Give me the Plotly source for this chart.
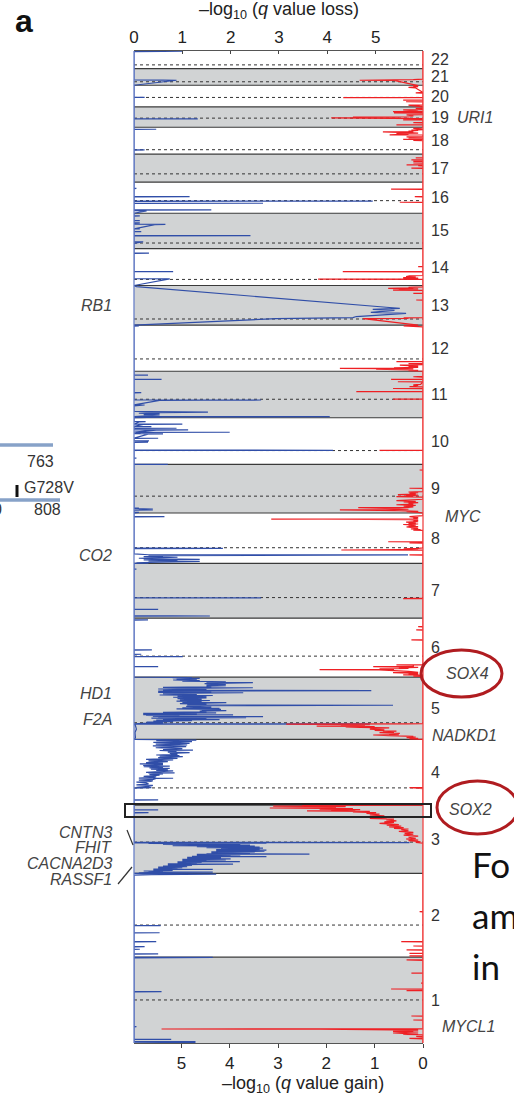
import plotly.graph_objects as go

# ---------------- data ----------------
chrom_names = [str(i) for i in range(1, 23)]
chrom_len = [249.25, 243.2, 198.0, 191.2, 180.9, 171.1, 159.1, 146.4, 141.2, 135.5, 135.0,
             133.9, 115.2, 107.3, 102.5, 90.4, 81.2, 78.1, 59.1, 63.0, 48.1, 51.3]
centromere = [125.0, 93.3, 91.0, 50.4, 48.4, 61.0, 59.9, 45.6, 49.0, 40.2, 53.7,
              35.8, 17.9, 17.6, 16.0, 36.6, 24.0, 13.0, 26.5, 27.5, 10.0, 11.0]

# loss profile, (position in Mb, -log10 q loss)
loss_1 = [(0, 0), (1.2, 1.26), (3.8, 1.26), (4.2, 0), (10.3, 0), (10.7, 0.77), (11.1, 0), (47, 0), (47.4, 0.05),
          (47.8, 0), (148.6, 0), (149, 0.57), (149.4, 0), (247.3, 0), (247.8, 0.36), (248.4, 1.63), (249, 0)]
loss_2 = [(0, 0), (9, 0), (9.3, 0.5), (9.7, 0), (22.7, 0), (23, 0.12), (23.3, 0), (30.2, 0), (30.5, 0.22), (30.8, 0),
          (44.7, 0), (45, 0.46), (45.3, 0), (70.7, 0), (71, 0.53), (71.3, 0), (91.2, 0), (91.5, 0.55), (91.8, 0),
          (238, 0), (240, 0.36), (241, 1.7), (241.8, 0.53), (243, 0)]
loss_3 = [(0, 0), (1, 0.4), (2, 0.1), (3, 0.5), (4, 1.63), (4.6, 0.3), (6, 0.6), (7, 0.2), (8.5, 0.8), (10, 0.4),
          (11.5, 0.8), (12, 1.63), (12.5, 0.4), (14, 0.9), (15.5, 0.5), (17, 1.0), (18.5, 0.5), (20, 1.1), (21.5, 0.6),
          (23, 1.2), (24.5, 0.7), (26, 1.36), (27.3, 2.05), (27.8, 0.7), (29, 1.3), (30.5, 0.9), (32, 1.4), (33.5, 0.9),
          (34.5, 2.19), (35, 1.0), (36.5, 1.5), (38, 1.0), (39.5, 1.9), (41, 1.0), (42.5, 2.0), (44, 1.1), (45.5, 1.8),
          (47, 1.1), (48.5, 1.77), (49, 2.74), (49.5, 1.2), (51, 2.0), (52.5, 1.3), (54, 2.2), (55.5, 1.3), (56.3, 3.63),
          (57, 1.5), (58.5, 2.4), (60, 1.6), (61.5, 2.5), (63, 1.6), (64.5, 2.7), (66, 1.7), (67.5, 2.74), (69, 1.7),
          (70.5, 2.6), (72, 1.8), (73.5, 2.67), (75, 1.5), (76.5, 2.6), (78, 1.3), (79.5, 2.5), (81, 0.8), (82.5, 2.4),
          (84, 0.6), (85.5, 2.2), (87, 0.3), (87.8, 1.43), (88.3, 2.74), (89, 0.0), (89.5, 5.7), (90.3, 0),
          (176, 0), (176.5, 0.3), (177, 0), (184.2, 0), (184.6, 0.5), (185, 0), (198, 0)]
loss_4 = [(0, 0), (15, 0), (15.4, 0.5), (15.8, 0), (50, 0), (51, 0.36), (52, 0.05), (55, 0.3), (57.7, 0.39),
          (59, 0.05), (62, 0.3), (65.3, 0.25), (67, 0.05), (69, 0.35), (71.1, 0.39), (73, 0.1), (75, 0.4), (78, 0.46),
          (78.5, 0.81), (79, 0.1), (81, 0.4), (82.7, 0.46), (84, 0.2), (86, 0.5), (87.6, 0.53), (89, 0.32), (91, 0.6),
          (93, 0.3), (94.3, 0.84), (95.5, 0.25), (97.5, 0.7), (100, 0.81), (101.5, 0.46), (103.5, 0.7), (105, 0.35),
          (107, 0.74), (108.5, 0.32), (110.5, 0.6), (112, 0.2), (113.9, 0.74), (115.5, 0.19), (118, 0.6), (120, 0.12),
          (121.7, 0.6), (124, 0.25), (126.5, 0.7), (129, 0.3), (131.4, 0.81), (133.5, 0.25), (136, 0.9), (138.5, 0.5),
          (141, 1.01), (142.5, 0.53), (144.5, 0.94), (146, 0.46), (148, 0.9), (150.5, 0.74), (152.7, 1.15),
          (154.5, 0.7), (157, 0.88), (159, 0.53), (160.4, 1.22), (162, 0.6), (164.5, 1.0), (167, 0.45), (170, 1.08),
          (172.5, 0.39), (175, 1.1), (177.5, 0.45), (180, 1.15), (182.5, 0.4), (185, 1.2), (187.6, 0.46), (189, 1.29),
          (190.5, 0.5), (191.2, 0)]
loss_5 = [(0, 0), (5, 0.03), (20, 0.02), (30, 0.05), (40, 0.03), (44.2, 0), (44.7, 3.15), (45, 4.88), (45.4, 0),
          (46.5, 0.2), (48.5, 0.6), (50, 0.26), (51.4, 0.81), (53, 0.4), (54.5, 1.2), (56.3, 0.46), (57.5, 1.77),
          (59, 0.6), (60.5, 1.5), (62, 0.36), (63, 2.32), (64.2, 0.5), (65.2, 1.1), (66, 2.67), (66.6, 0.39),
          (68, 0.94), (69.5, 0.25), (70.9, 1.57), (71.5, 2.05), (72.2, 0.19), (74, 1.3), (75.8, 0.19), (77, 1.7),
          (78.5, 0.6), (80, 1.5), (82, 1.36), (83.4, 1.91), (85, 1.4), (87, 1.8), (88.5, 0.88), (90.3, 1.77),
          (92, 1.0), (94, 1.6), (96, 1.08), (98, 1.5), (99.2, 5.36), (100, 1.1), (102, 1.5), (104, 0.95),
          (105.5, 1.36), (106.6, 1.91), (107.5, 1.0), (109.5, 1.4), (111.5, 0.88), (113, 1.57), (114.4, 0.95),
          (116.5, 1.4), (118.5, 0.9), (120.5, 1.5), (122.5, 0.81), (124, 1.5), (126, 0.9), (127.5, 1.63), (129, 0.53),
          (131, 1.3), (133, 0.6), (134.5, 2.05), (135.6, 2.26), (136.5, 0.5), (138.5, 1.6), (140.5, 0.5), (142, 4.91),
          (143, 0.6), (144.5, 1.5), (146.5, 0.5), (148.5, 1.7), (150, 2.46), (151, 0.6), (153, 1.6), (155, 1.5),
          (156.5, 1.9), (158, 1.5), (160, 1.9), (162, 1.46), (163.5, 1.98), (164.7, 2.46), (165.5, 1.5), (167.5, 1.9),
          (169.5, 1.0), (171, 1.36), (172.5, 0.81), (174.5, 1.3), (176, 0.88), (177.4, 1.36), (178.5, 0.8),
          (179.7, 1.2), (180.6, 0.3), (180.9, 0)]
loss_6 = [(0, 0), (30.1, 0), (30.5, 0.5), (30.9, 0), (59.2, 0), (59.6, 1.01), (60, 0), (66.1, 0), (66.5, 0.15),
          (66.9, 0), (78.6, 0), (79, 0.37), (79.4, 0), (165.5, 0), (166, 0.29), (166.5, 0.15), (167, 0), (171.1, 0)]
loss_7 = [(0, 0), (6, 0), (6.4, 1.57), (6.8, 0.9), (7.3, 0), (25.4, 0), (25.8, 0.5), (26.2, 0), (58.8, 0),
          (59.3, 2.63), (59.8, 0), (142.4, 0), (142.7, 0.05), (143, 0), (159.1, 0)]
loss_8 = [(0, 0), (1, 0.3), (2, 0.05), (4, 0.5), (6, 1.36), (7, 0.3), (9, 0.9), (10.5, 0.2), (12, 1.36), (13.5, 0.5),
          (15, 0.1), (16.5, 0.6), (18, 0.9), (19.8, 0.2), (21, 0.6), (22.5, 0.3), (24.2, 3.63), (24.7, 5.67),
          (25.2, 0.3), (26, 0.1), (28, 0), (43, 0), (43.5, 0.39), (44, 1.84), (44.5, 0.4), (45, 0), (135.5, 0),
          (135.9, 0.63), (136.3, 0), (146.4, 0)]
loss_9 = [(0, 0), (2, 0.1), (3, 0), (8, 0), (9, 0.39), (10, 0.1), (11.5, 0.39), (12.5, 0), (14, 0.1), (15, 0),
          (141.2, 0)]
loss_10 = [(0, 0), (0.3, 0.7), (0.9, 0), (17.8, 0), (18, 0.05), (18.3, 0), (40.5, 0), (41, 4.12), (41.5, 0),
           (64.2, 0), (64.5, 0.29), (64.8, 0), (68, 0.15), (68.3, 0.31), (68.7, 0), (75.7, 0), (76, 0.5), (76.3, 0),
           (88, 0.29), (88.5, 0.6), (89, 0), (92.8, 0.15), (93.4, 1.98), (93.7, 1.53), (94, 0), (99.5, 0.46),
           (100, 1.12), (100.5, 0), (104.7, 0), (105, 0.88), (105.4, 0), (109.7, 0), (110, 0.36), (110.3, 0),
           (116.3, 0.19), (116.8, 1.0), (117.2, 0), (123.7, 0.12), (124, 0.24), (124.3, 0), (135.5, 0)]
loss_11 = [(0, 0), (1.5, 0.57), (2.5, 0.3), (3, 4.05), (3.5, 0), (8, 0.53), (9, 0.2), (11, 0.53), (13, 0.1),
           (15, 0.53), (16.5, 1.53), (17.5, 0.3), (18.5, 0), (34.7, 0), (35, 0.22), (35.3, 0), (36.7, 0), (37, 0.22),
           (37.3, 0), (50.5, 0.53), (51, 1.43), (51.5, 2.63), (52, 0), (72.5, 0), (72.8, 0.15), (73.1, 0),
           (111.3, 0), (111.6, 0.57), (111.9, 0), (123.7, 0), (124, 0.29), (124.3, 0), (135, 0)]
loss_12 = [(0, 0), (131, 0), (131.5, 0.1), (133.9, 0)]
loss_13 = [(19, 2.94), (22, 4.53), (25, 4.6), (28, 4.94), (31, 5.4), (34, 5.63), (37, 4.9), (40, 5.2), (43, 5.39),
           (46, 4.94), (48.9, 5.5), (52, 5.22), (112, 0.05), (115.2, 0)]
loss_14 = [(19, 0.74), (19.5, 0), (40, 0), (40.4, 0.81), (40.8, 0), (93.5, 0), (93.8, 0.31), (94.1, 0), (107.3, 0)]
loss_15 = [(15, 0), (19.7, 0.19), (20.3, 0), (37, 0), (37.3, 1.53), (37.5, 2.41), (37.8, 0), (48.7, 0), (49, 0.15),
           (49.3, 0), (56.7, 0), (57, 0.12), (57.3, 0), (69.5, 0.43), (70, 0.65), (70.5, 0), (74, 0), (74.3, 0.12),
           (74.6, 0), (80.7, 0), (81, 0.12), (81.3, 0), (94.4, 0), (94.7, 0.12), (95, 0), (102.5, 0)]
loss_16 = [(0, 0), (7, 0.26), (7.4, 0), (9.3, 0), (9.6, 1.6), (9.9, 0), (28.7, 0), (29, 2.67), (29.3, 0),
           (34.5, 0), (35, 2.67), (35.3, 4.94), (35.7, 0), (47.7, 0), (48, 1.15), (48.3, 0), (71.7, 0), (72, 0.05),
           (72.3, 0), (90.4, 0)]
loss_17 = [(0, 0), (81.2, 0)]
loss_18 = [(0, 0), (12, 0), (12.2, 0.22), (12.5, 0), (72, 0), (72.4, 0.46), (72.8, 0), (78.1, 0)]
loss_19 = [(0, 0), (24, 0), (24.4, 1.32), (24.6, 0.36), (25, 0), (59.1, 0)]
loss_20 = [(0, 0), (27.7, 0), (28, 0.22), (28.3, 0), (63, 0)]
loss_21 = [(14.5, 0.88), (15, 0.6), (15.5, 0), (48.1, 0)]
loss_22 = [(15, 0), (49.5, 0), (50, 0.6), (50.6, 1.0), (51.2, 0)]

# gain profile, (position in Mb, -log10 q gain)
gain_1 = [(0, 0), (12, 0), (13.4, 0.28), (14, 0), (18, 0), (19, 0.14), (20, 0), (24, 0), (25, 0.41), (26, 0.1),
          (29, 0.62), (30, 0.2), (31, 0.55), (32, 0.1), (33.5, 0.62), (34.5, 0.2), (36, 0.5), (37.5, 0.1),
          (40.2, 2.14), (40.6, 5.41), (41, 0), (66.5, 0), (66.8, 0.2), (67.1, 0), (78, 0), (78.4, 0.24), (78.8, 0),
          (151.7, 0), (152, 0.34), (152.3, 0), (156.5, 0), (156.8, 0.66), (157.2, 0), (173.7, 0), (174, 0.04),
          (174.3, 0), (202.7, 0), (203, 0.24), (203.3, 0), (240, 0), (241.6, 0.34), (242.5, 0), (249.2, 0)]
gain_2 = [(0, 0), (3.2, 0), (3.5, 0.28), (3.8, 0), (11, 0), (11.3, 0.28), (11.6, 0), (20.7, 0), (21, 0.34),
          (21.3, 0), (32.2, 0), (32.5, 0.2), (32.8, 0), (44.7, 0), (45, 0.45), (45.3, 0), (131.7, 0), (132, 0.07),
          (132.3, 0), (243.2, 0)]
gain_3 = [(0, 0), (88, 0), (90, 0.15), (92, 0.05), (95, 0.3), (97, 0.1), (100, 0.35), (102, 0.15), (105, 0.3),
          (108.6, 0.1), (111, 0.4), (114, 0.2), (116.5, 0.38), (119, 0.2), (122, 0.5), (124, 0.3), (127, 0.45),
          (129, 0.3), (131, 0.6), (133, 0.4), (135.5, 0.7), (137.7, 0.45), (140, 0.75), (142, 0.5), (145.6, 0.9),
          (148, 0.6), (150, 0.8), (152.5, 0.55), (155.3, 0.76), (157.5, 0.6), (160, 1.1), (162, 0.75), (164.5, 1.0),
          (167, 0.8), (169.7, 1.1), (172, 0.9), (174.6, 1.17), (176.5, 0.97), (179, 1.45), (180.5, 1.1),
          (181.4, 2.4), (182, 1.4), (184, 1.9), (185.5, 1.3), (187, 2.14), (188.5, 1.45), (190, 3.17), (191, 1.8),
          (192.5, 2.2), (194, 1.6), (195.5, 3.1), (196.5, 2.0), (197.5, 2.5), (198, 0)]
gain_4 = [(0, 0), (48, 0), (49, 0.28), (50, 0.1), (51, 0.28), (52, 0), (191.2, 0)]
gain_5 = [(0, 0), (1.5, 0.28), (3, 0.1), (5, 0.34), (7, 0.15), (7.8, 0.34), (9, 0.2), (11, 0.7), (12.8, 1.03),
          (14, 0.5), (16, 0.7), (17.7, 0.48), (19.5, 0.9), (21, 0.6), (22.4, 0.83), (24, 0.55), (26, 1.0), (28, 0.8),
          (30, 1.1), (32.2, 1.03), (33.5, 0.7), (35, 1.3), (36.2, 1.6), (37.5, 1.0), (38.9, 2.2), (40, 1.2),
          (41.5, 1.7), (43, 1.1), (44.3, 2.2), (44.7, 2.83), (45.2, 0.3), (46, 0), (180.9, 0)]
gain_6 = [(0, 0), (2, 0), (3, 0.2), (4, 0), (6, 0), (6.4, 0.41), (7, 0.1), (9, 0.3), (11, 0.1), (13, 0.62),
          (14, 0.1), (17, 0.3), (19, 0.5), (21, 0.9), (21.6, 2.14), (22.2, 0.6), (24, 0.9), (25, 0.3), (27, 0.5),
          (28.5, 0.1), (30.5, 1.03), (31, 0.2), (35.1, 0.2), (35.4, 0.55), (35.8, 0), (107.7, 0), (108, 0.24),
          (108.3, 0), (136.7, 0), (137, 0.14), (137.3, 0), (146, 0), (146.4, 0.1), (146.8, 0), (171.1, 0)]
gain_7 = [(0, 0), (56.5, 0), (57, 0.41), (57.5, 0.3), (58, 0.41), (58.5, 0), (159.1, 0)]
gain_8 = [(0, 0), (24.4, 0), (24.7, 0.28), (25, 0), (38.5, 0), (39, 1.69), (39.5, 0.3), (40.5, 0.48), (41.5, 0.1),
          (42.5, 0.4), (44, 0.1), (45, 0), (59.2, 0), (59.5, 0.28), (59.8, 0), (62.7, 0), (63, 0.72), (63.3, 0),
          (96, 0), (97, 0.2), (98.5, 0.05), (100, 0.25), (102, 0.1), (104, 0.3), (106, 0.34), (107, 0.1), (109, 0.3),
          (111, 0.15), (113, 0.41), (114.5, 0.1), (116, 0.3), (118, 0.15), (120, 0.35), (121.5, 0.1), (123, 0.2),
          (125, 0.1), (127, 0.3), (128.4, 2.07), (128.7, 3.14), (129, 0.1), (131, 0.2), (133, 0.1), (135.9, 0.28),
          (137, 0.1), (139, 0), (146.4, 0)]
gain_9 = [(0, 0), (2, 0.1), (4, 0.34), (5, 0.1), (7, 0.5), (8.5, 0.97), (9, 1.72), (9.5, 0.6), (11, 0.3),
          (13, 0.6), (15.7, 1.34), (16.3, 0.3), (18, 0.2), (20, 0.4), (22, 0.15), (24, 0.55), (26, 0.2), (28, 0.3),
          (30, 0.1), (32, 0.4), (34, 0.15), (36, 0.55), (38, 0.1), (40, 0), (46, 0), (47.6, 0.55), (48.5, 0.2),
          (50, 0.35), (52, 0.1), (53.5, 0.52), (55, 0.15), (57, 0.28), (59, 0.1), (61, 0.3), (62, 0), (71.7, 0),
          (72, 0.28), (72.3, 0), (124.7, 0), (125, 0.07), (125.3, 0), (141.2, 0)]
gain_10 = [(0, 0), (40.5, 0), (41, 0.9), (41.5, 0), (135.5, 0)]
gain_11 = [(0, 0), (53.7, 0), (54, 0.62), (54.3, 0), (75.5, 0), (75.8, 1.38), (76.1, 0), (84.7, 0), (85, 0.62),
           (85.3, 0), (89.9, 0), (90.2, 0.28), (91, 0.1), (92.5, 0.2), (94, 0.1), (95.5, 0.2), (97, 0.05),
           (104.3, 0), (104.6, 0.52), (104.9, 0), (111.3, 0), (111.6, 0.66), (111.9, 0), (118, 0), (119, 0.2),
           (120, 0), (135, 0)]
gain_12 = [(0, 0), (2, 0.3), (3, 0.1), (4, 0.97), (5, 0.4), (6, 0.97), (7, 0.2), (8.4, 1.72), (9, 0.4), (10, 0.6),
           (11, 0.1), (13, 0.3), (15, 0.1), (18, 0.48), (19, 0), (21.7, 0), (22, 0.3), (22.3, 0), (27.7, 0),
           (28, 0.55), (28.3, 0), (129, 0), (130, 0.4), (131, 0.1), (132, 0.4), (133.9, 0.1)]
gain_13 = [(19, 1.24), (19.5, 0.3), (21, 0.4), (22, 0), (72.7, 0), (73, 0.14), (73.3, 0), (92, 0), (92.5, 0.2),
           (93, 0), (101, 0), (102, 0.62), (103, 0.2), (104.5, 0.5), (105.5, 0.1), (107, 0.72), (108, 0.2),
           (110, 0.3), (111, 0), (115.2, 0)]
gain_14 = [(17.8, 0), (18.3, 2.17), (18.8, 0.3), (20, 0.41), (21.5, 0.1), (23, 0.41), (24.5, 0.15), (26, 0.35),
           (28, 0.28), (29, 0), (39.7, 0), (40, 1.66), (40.3, 0), (54.7, 0), (55, 0.1), (55.3, 0), (107.3, 0)]
gain_15 = [(15, 0), (102.5, 0)]
gain_16 = [(0, 0), (31.7, 0), (32, 0.48), (32.3, 0), (47.7, 0), (48, 0.17), (48.3, 0), (69.6, 0), (69.9, 0.66),
           (70.2, 0), (90.4, 0)]
gain_17 = [(0, 0), (40, 0), (40.5, 0.24), (41, 0), (47, 0), (47.5, 0.1), (48, 0), (49.7, 0), (50, 0.34), (50.3, 0),
           (55, 0), (55.5, 0.2), (56, 0), (60, 0), (60.3, 0.2), (60.6, 0), (64.2, 0), (64.5, 0.24), (64.8, 0),
           (70, 0), (70.5, 0.15), (71, 0), (81.2, 0)]
gain_18 = [(0, 0), (39, 0), (40, 0.2), (41, 0), (42.7, 0), (43, 0.41), (43.3, 0), (47, 0), (47.5, 0.3), (48, 0.1),
           (50, 0.34), (51, 0), (55.7, 0), (56, 0.69), (56.3, 0.1), (58, 0.3), (60, 0.55), (61, 0.1), (62.5, 0.3),
           (65, 0.83), (65.5, 0.2), (67, 0.3), (69, 0.1), (70, 0.24), (71, 0), (75, 0.2), (76, 0), (78.1, 0)]
gain_19 = [(0, 0), (6.7, 0), (7, 0.55), (7.3, 0), (13, 0), (13.5, 0.2), (14, 0), (21.2, 0), (21.5, 0.41),
           (21.8, 0), (25, 0), (27, 1.9), (27.5, 0.5), (29.3, 1.45), (29.8, 0.3), (33, 0.2), (36, 0.34), (37, 0),
           (41.3, 0), (41.6, 0.6), (42, 0), (45.3, 0), (45.6, 0.62), (46, 0.1), (48, 0.2), (50.5, 0.41), (51, 0),
           (54, 0), (55, 0.15), (56, 0), (59.1, 0)]
gain_20 = [(0, 0), (5, 0.3), (5.5, 0), (14.7, 0), (15, 0.35), (15.3, 0), (19.7, 0), (20, 0.41), (20.3, 0),
           (26.7, 0), (27, 1.65), (27.4, 0), (40, 0), (41, 0.15), (42, 0), (55, 0.15), (57, 0.3), (59, 0.1),
           (61, 0.2), (62, 0.1)]
gain_21 = [(14, 0.6), (14.5, 1.31), (15, 0.5), (16, 0.9), (16.5, 0.2), (18, 0), (48.1, 0)]
gain_22 = [(15, 0), (51.3, 0)]

loss_series = [loss_1, loss_2, loss_3, loss_4, loss_5, loss_6, loss_7, loss_8, loss_9, loss_10, loss_11,
               loss_12, loss_13, loss_14, loss_15, loss_16, loss_17, loss_18, loss_19, loss_20, loss_21, loss_22]
gain_series = [gain_1, gain_2, gain_3, gain_4, gain_5, gain_6, gain_7, gain_8, gain_9, gain_10, gain_11,
               gain_12, gain_13, gain_14, gain_15, gain_16, gain_17, gain_18, gain_19, gain_20, gain_21, gain_22]

tick_values = [0, 1, 2, 3, 4, 5]
right_genes = [("URI1", 19, 27.0, 455), ("MYC", 8, 135.0, 443), ("SOX4", 6, 12.0, 444),
               ("NADKD1", 5, 12.5, 430), ("SOX2", 3, 184.3, 447), ("MYCL1", 1, 46.5, 440)]
left_genes = [("RB1", 305), ("CO2", 555), ("HD1", 693), ("F2A", 720),
              ("CNTN3", 832), ("FHIT", 847), ("CACNA2D3", 863), ("RASSF1", 879)]

# ---------------- layout helpers ----------------
W, H = 514, 1096
PL, PR, PT, PB = 134, 423, 51, 1043
XMAX = 5.98
FONT = "Liberation Sans, Arial, Helvetica, sans-serif"


def px(x):
    return (x - PL) / (PR - PL)


def py(y):
    return (PB - y) / (PB - PT)


offsets = []
acc = 0.0
for L in chrom_len:
    offsets.append(acc)
    acc += L
total = acc


def gy(c, pos):
    return offsets[c - 1] + pos


lx, ly = [], []
for i, pts in enumerate(loss_series):
    for p, v in pts:
        ly.append(offsets[i] + p)
        lx.append(v)
gxv, gyv = [], []
for i, pts in enumerate(gain_series):
    for p, v in pts:
        gyv.append(offsets[i] + p)
        gxv.append(v)

fig = go.Figure()
fig.add_trace(go.Scatter(x=lx, y=ly, mode="lines", xaxis="x", yaxis="y",
                         line=dict(color="rgb(48,78,168)", width=1.2), hoverinfo="skip"))
fig.add_trace(go.Scatter(x=gxv, y=gyv, mode="lines", xaxis="x2", yaxis="y",
                         line=dict(color="rgb(238,32,36)", width=1.2), hoverinfo="skip"))

shapes = []
for i, L in enumerate(chrom_len):
    if i % 2 == 0:
        shapes.append(dict(type="rect", xref="x", yref="y", x0=0, x1=XMAX, y0=offsets[i], y1=offsets[i] + L,
                           fillcolor="#d1d3d4", line=dict(width=0), layer="below"))
for i, L in enumerate(chrom_len):
    c = offsets[i] + centromere[i]
    shapes.append(dict(type="line", xref="x", yref="y", x0=0, x1=XMAX, y0=c, y1=c,
                       line=dict(color="#333333", width=1, dash="dot"), layer="below"))
    if i > 0:
        shapes.append(dict(type="line", xref="x", yref="y", x0=0, x1=XMAX, y0=offsets[i], y1=offsets[i],
                           line=dict(color="#3a3a3a", width=1.2), layer="below"))
# frame sides
shapes.append(dict(type="line", xref="paper", yref="paper", x0=0, x1=0, y0=0, y1=1,
                   line=dict(color="rgb(105,128,200)", width=1.3)))
shapes.append(dict(type="line", xref="paper", yref="paper", x0=1, x1=1, y0=0, y1=1,
                   line=dict(color="rgb(240,70,70)", width=1.3)))
# highlight box and circles
shapes.append(dict(type="rect", xref="paper", yref="paper", x0=px(125), x1=px(431), y0=py(817), y1=py(804),
                   line=dict(color="#222222", width=2)))
shapes.append(dict(type="circle", xref="paper", yref="paper", x0=px(421), x1=px(502), y0=py(697), y1=py(650),
                   line=dict(color="rgb(176,28,32)", width=3)))
shapes.append(dict(type="circle", xref="paper", yref="paper", x0=px(437), x1=px(518), y0=py(834), y1=py(781),
                   line=dict(color="rgb(176,28,32)", width=3)))
# leader lines
shapes.append(dict(type="line", xref="paper", yref="paper", x0=px(127), x1=px(133), y0=py(830), y1=py(845),
                   line=dict(color="#333333", width=1.2)))
shapes.append(dict(type="line", xref="paper", yref="paper", x0=px(118), x1=px(132), y0=py(884), y1=py(867),
                   line=dict(color="#333333", width=1.2)))
# neighbouring panel fragment
shapes.append(dict(type="line", xref="paper", yref="paper", x0=px(0), x1=px(53), y0=py(445), y1=py(445),
                   line=dict(color="rgb(135,162,200)", width=3.5)))
shapes.append(dict(type="line", xref="paper", yref="paper", x0=px(0), x1=px(60), y0=py(500), y1=py(500),
                   line=dict(color="rgb(135,162,200)", width=3.5)))
shapes.append(dict(type="line", xref="paper", yref="paper", x0=px(17), x1=px(17), y0=py(497), y1=py(485),
                   line=dict(color="#111111", width=3)))

ann = []
ann.append(dict(text="–log<sub>10</sub> (<i>q</i> value loss)", xref="paper", yref="paper", x=px(279), y=py(10),
                showarrow=False, font=dict(size=18, color="#222", family=FONT), xanchor="center", yanchor="middle"))
ann.append(dict(text="–log<sub>10</sub> (<i>q</i> value gain)", xref="paper", yref="paper", x=px(303), y=py(1084),
                showarrow=False, font=dict(size=18, color="#222", family=FONT), xanchor="center", yanchor="middle"))
for i, L in enumerate(chrom_len):
    ann.append(dict(text=chrom_names[i], xref="paper", yref="y", x=px(429), y=offsets[i] + L / 2,
                    showarrow=False, font=dict(size=16, color="#333", family=FONT), xanchor="left",
                    yanchor="middle"))
for name, c, pos, xx in right_genes:
    ann.append(dict(text="<i>" + name + "</i>", xref="paper", yref="y", x=px(xx), y=gy(c, pos),
                    showarrow=False, font=dict(size=16, color="#444", family=FONT), xanchor="left",
                    yanchor="middle"))
for name, yy in left_genes:
    ann.append(dict(text="<i>" + name + "</i>", xref="paper", yref="paper", x=px(114), y=py(yy),
                    showarrow=False, font=dict(size=16, color="#444", family=FONT), xanchor="right",
                    yanchor="middle"))
for txt, xx, yy, anc in [("763", 40, 461, "center"), ("G728V", 22, 487, "left"), ("0", 4, 510, "right"),
                         ("808", 47, 510, "center")]:
    ann.append(dict(text=txt, xref="paper", yref="paper", x=px(xx), y=py(yy), showarrow=False,
                    font=dict(size=16, color="#333", family=FONT), xanchor=anc, yanchor="middle"))
ann.append(dict(text="<b>a</b>", xref="paper", yref="paper", x=px(24), y=py(21), showarrow=False,
                font=dict(size=32, color="#111", family=FONT), xanchor="center", yanchor="middle"))
for txt, yy in [("Fo", 864), ("am", 915), ("in", 966)]:
    ann.append(dict(text=txt, xref="paper", yref="paper", x=px(470), y=py(yy), showarrow=False,
                    font=dict(size=35, color="#111", family="Lato, Open Sans, sans-serif"),
                    xanchor="left", yanchor="middle"))

axis_common = dict(tickvals=tick_values, showgrid=False, zeroline=False, showline=True,
                   linewidth=1.2, tickfont=dict(size=17, color="#222", family=FONT), tickcolor="#444",
                   tickwidth=1)
fig.update_layout(
    width=W, height=H, margin=dict(l=PL, r=W - PR, t=PT, b=H - PB, pad=0),
    paper_bgcolor="white", plot_bgcolor="white", showlegend=False,
    xaxis=dict(side="top", ticks="inside", ticklen=3, linecolor="#555", anchor="y", range=[0, XMAX],
               **axis_common),
    xaxis2=dict(side="bottom", overlaying="x", ticks="outside", ticklen=4, linecolor="#555", anchor="y",
                range=[XMAX, 0], **axis_common),
    yaxis=dict(range=[0, total], visible=False, showgrid=False, zeroline=False),
    shapes=shapes, annotations=ann,
)
fig.write_html("out.html", config={"displayModeBar": False, "staticPlot": True},
               post_script="document.body.style.margin='0px';document.body.style.padding='0px';")
